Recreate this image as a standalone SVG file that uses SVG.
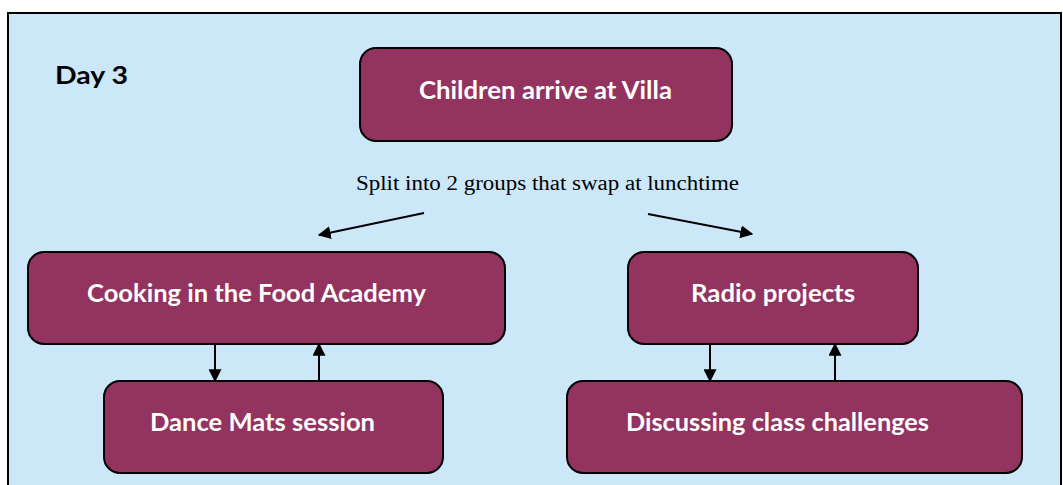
<svg xmlns="http://www.w3.org/2000/svg" width="1063" height="485" viewBox="0 0 1063 485">
<defs>
<style>
.node{fill:#923360;stroke:#000;stroke-width:2}
.lbl{fill:#fff;font-family:Lato,"Open Sans",sans-serif;font-weight:bold;font-size:24px;text-anchor:middle}
.conn{stroke:#000;stroke-width:2;fill:none}
</style>
<marker id="ah2" viewBox="0 0 10 10" refX="9" refY="5" markerWidth="13" markerHeight="13" markerUnits="userSpaceOnUse" orient="auto"><path d="M0,0 L10,5 L0,10 z" fill="#000"/></marker>
</defs>
<rect x="0" y="0" width="1063" height="485" fill="#fff"/>
<rect x="8" y="13" width="1053" height="480" fill="#cce7f8" stroke="#000" stroke-width="2"/>
<text x="55" y="84" font-family="Lato,'Open Sans',sans-serif" font-weight="bold" font-size="25" fill="#000" textLength="73" lengthAdjust="spacingAndGlyphs">Day 3</text>
<g id="n-arrive"><rect class="node" x="360" y="48" width="372" height="93" rx="16"/><text class="lbl" x="545.5" y="99" textLength="253" lengthAdjust="spacingAndGlyphs">Children arrive at Villa</text></g>
<text x="547.5" y="190" font-family="'Liberation Serif',serif" font-size="20" text-anchor="middle" fill="#000" textLength="383" lengthAdjust="spacingAndGlyphs">Split into 2 groups that swap at lunchtime</text>
<g id="n-cooking"><rect class="node" x="28" y="252" width="477" height="92" rx="16"/><text class="lbl" x="256.5" y="302" textLength="339" lengthAdjust="spacingAndGlyphs">Cooking in the Food Academy</text></g>
<g id="n-dance"><rect class="node" x="104" y="381" width="339" height="92" rx="16"/><text class="lbl" x="262.5" y="431" textLength="225" lengthAdjust="spacingAndGlyphs">Dance Mats session</text></g>
<g id="n-radio"><rect class="node" x="628" y="252" width="290" height="92" rx="16"/><text class="lbl" x="773" y="302" textLength="164" lengthAdjust="spacingAndGlyphs">Radio projects</text></g>
<g id="n-discuss"><rect class="node" x="567" y="381" width="455" height="92" rx="16"/><text class="lbl" x="777.5" y="431" textLength="303" lengthAdjust="spacingAndGlyphs">Discussing class challenges</text></g>
<g id="connectors">
<line class="conn" x1="424" y1="213" x2="319" y2="235" marker-end="url(#ah2)"/>
<line class="conn" x1="648" y1="214" x2="752" y2="234" marker-end="url(#ah2)"/>
<line class="conn" x1="215" y1="344" x2="215" y2="381" marker-end="url(#ah2)"/>
<line class="conn" x1="319" y1="381" x2="319" y2="344" marker-end="url(#ah2)"/>
<line class="conn" x1="710" y1="344" x2="710" y2="381" marker-end="url(#ah2)"/>
<line class="conn" x1="835" y1="381" x2="835" y2="344" marker-end="url(#ah2)"/>
</g>
</svg>
